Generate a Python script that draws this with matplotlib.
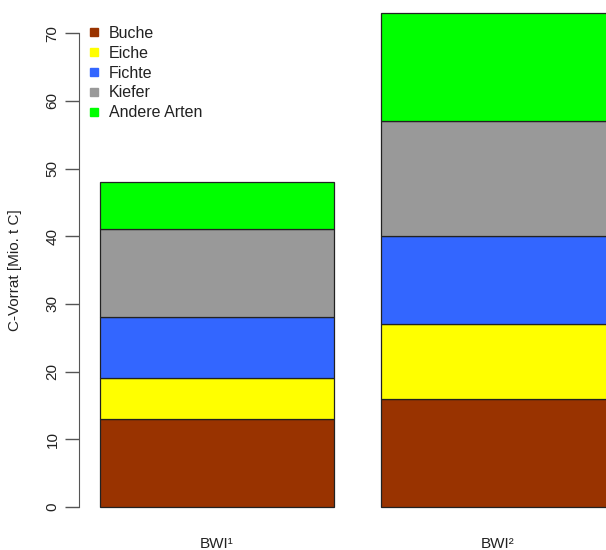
import matplotlib
matplotlib.use('Agg')
import matplotlib.pyplot as plt
from matplotlib.lines import Line2D

# data (Mio. t C)
periods = ['BWI¹', 'BWI²']
species = ['Buche', 'Eiche', 'Fichte', 'Kiefer', 'Andere Arten']
values = {
    'Buche': [13, 16],
    'Eiche': [6, 11],
    'Fichte': [9, 13],
    'Kiefer': [13, 17],
    'Andere Arten': [7, 16],
}
colors = ['#993300', '#FFFF00', '#3366FF', '#999999', '#00FF00']
yticks = [0, 10, 20, 30, 40, 50, 60, 70]

plt.rcParams['font.family'] = ['Liberation Sans', 'DejaVu Sans']

W, H = 606, 550
fig = plt.figure(figsize=(W / 100, H / 100), dpi=100)
# axes in pixel coords: left 79, bottom y=507, top for 73 units
ax = fig.add_axes([79 / W, (H - 507) / H, 1 - 79 / W, 494.2 / H])

# R-style bar positions: width 1, space 0.2
xpos = [0.7, 1.9]
bottoms = [0, 0]
for name, col in zip(species, colors):
    vals = values[name]
    ax.bar(xpos, vals, width=1.0, bottom=bottoms, color=col,
           edgecolor='#222222', linewidth=0.9, clip_on=False)
    bottoms = [b + v for b, v in zip(bottoms, vals)]

ax.set_xlim(0.111, 2.363)
ax.set_ylim(0, 73)

for s in ['top', 'right', 'bottom']:
    ax.spines[s].set_visible(False)
ax.spines['left'].set_bounds(0, 70)
ax.spines['left'].set_color('#555555')

ax.set_yticks(yticks)
ax.set_yticklabels([str(t) for t in yticks], rotation=90, va='center',
                   fontsize=11, color='#222222')
ax.tick_params(axis='y', length=10, width=1, color='#555555', pad=4)
ax.set_xticks([])

for x, lab in zip(xpos, periods):
    ax.text(x, -5.4, lab, ha='center', va='center', fontsize=11,
            color='#222222', clip_on=False)

fig.text(15 / W, 1 - 270 / H, 'C-Vorrat [Mio. t C]', rotation=90,
         ha='center', va='center', fontsize=11, color='#222222')

handles = [Line2D([], [], marker='s', linestyle='none', markersize=5.5,
                  markerfacecolor=c, markeredgecolor=c) for c in colors]
ax.legend(handles, species, loc='upper left', frameon=False,
          bbox_to_anchor=(88 / W, 1 - 26 / H), bbox_transform=fig.transFigure,
          fontsize=11.5, handlelength=0.8, handletextpad=0.5,
          labelspacing=0.3, borderpad=0, borderaxespad=0,
          labelcolor='#222222')

fig.savefig('out.png', dpi=100)
